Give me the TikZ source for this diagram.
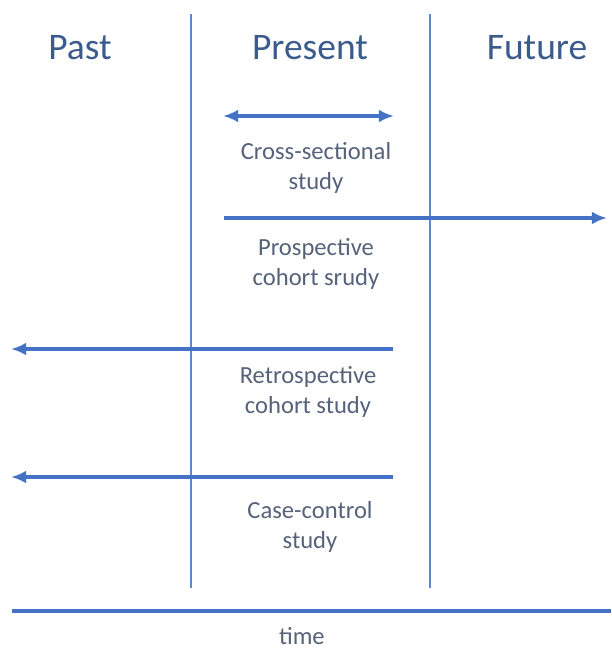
\documentclass[tikz,border=0pt]{standalone}
\usepackage{fontspec}
\setmainfont{Carlito}
\usetikzlibrary{positioning, calc, arrows.meta}
\definecolor{lineblue}{HTML}{4472C4}
\definecolor{headblue}{HTML}{3B5B8C}
\definecolor{labelgray}{HTML}{56627A}

\begin{document}
\begin{tikzpicture}[x=0.03cm, y=-0.03cm,
        every node/.style={inner sep=0pt, align=center, text=labelgray, font=\fontsize{21}{25.5}\selectfont},
        header/.style={text=headblue, font=\fontsize{32}{36}\selectfont},
        divider/.style={lineblue!85, line width=1.2pt},
        studyline/.style={lineblue, line width=3pt},
        studyarrow/.style={studyline, -{Latex[length=13pt,width=11pt]}},
        bothways/.style={studyline, {Latex[length=13pt,width=11pt]}-{Latex[length=13pt,width=11pt]}}]
        \useasboundingbox (0,0) rectangle (611,651);

        % Headers
        \node[header] (past) at (80,48) {Past};
        \node[header] (present) at (310,48) {Present};
        \node[header] (future) at (537,48) {Future};

        % Dividers
        \coordinate (d1top) at (191,14);
        \coordinate (d1bot) at (191,588);
        \coordinate (d2top) at (430,14);
        \coordinate (d2bot) at (430,588);
        \draw[divider] (d1top) -- (d1bot);
        \draw[divider] (d2top) -- (d2bot);

        % Arrow ends
        \coordinate (cs1) at (223,116);
        \coordinate (cs2) at (394,116);
        \coordinate (pc1) at (224,218);
        \coordinate (pc2) at (607,218);
        \coordinate (rc1) at (393,349);
        \coordinate (rc2) at (11,349);
        \coordinate (cc1) at (393,477);
        \coordinate (cc2) at (11,477);

        % Arrows
        \draw[bothways] (cs1) -- (cs2);
        \draw[studyarrow] (pc1) -- (pc2);
        \draw[studyarrow] (rc1) -- (rc2);
        \draw[studyarrow] (cc1) -- (cc2);

        % Labels
        \node (cross) at (316,168) {Cross-sectional\\study};
        \node (prosp) at (316,264) {Prospective\\cohort srudy};
        \node (retro) at (308,392) {Retrospective\\cohort study};
        \node (casec) at (310,527) {Case-control\\study};

        % Time axis
        \coordinate (t1) at (12,611);
        \coordinate (t2) at (611,611);
        \draw[lineblue, line width=3.4pt] (t1) -- (t2);
        \node (time) [below=14pt of $(t1)!0.484!(t2)$] {time};
\end{tikzpicture}
\end{document}
